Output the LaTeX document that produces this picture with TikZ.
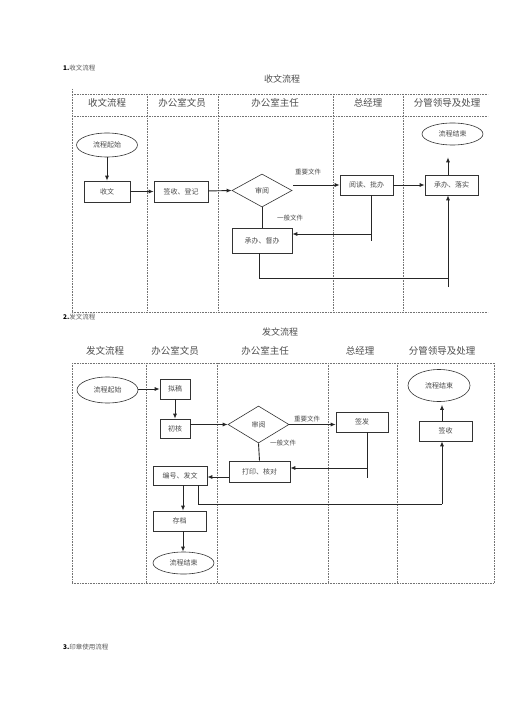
\documentclass[tikz,border=0pt]{standalone}
\usepackage{fontspec}
\setmainfont{Noto Sans CJK SC}
\usetikzlibrary{shapes.geometric,arrows.meta}
\tikzset{
  grid/.style={densely dotted, black!55, line width=0.6pt},
  box/.style={draw=black!80, line width=0.6pt, rectangle, inner sep=0pt, text=black!70, font=\fontsize{7}{8}\selectfont},
  oval/.style={draw=black!80, line width=0.6pt, ellipse, inner sep=0pt, text=black!70, font=\fontsize{7}{8}\selectfont},
  dia/.style={draw=black!80, line width=0.6pt, diamond, inner sep=0pt, text=black!70, font=\fontsize{7}{8}\selectfont},
  arr/.style={line width=0.9pt, black!85, -{Latex[length=5pt,width=4pt]}},
  ln/.style={line width=0.9pt, black!85},
  hdr/.style={text=black!70, font=\fontsize{9.5}{11}\selectfont, inner sep=0pt},
  ttl/.style={text=black!70, font=\fontsize{9}{11}\selectfont, inner sep=0pt},
  lbl/.style={text=black!70, font=\fontsize{6.5}{8}\selectfont, inner sep=0pt},
  sec/.style={anchor=west, inner sep=0pt, font=\fontsize{6.5}{8}\selectfont, text=black!65}
}
\begin{document}
\begin{tikzpicture}[x=1pt,y=-1pt]
\useasboundingbox (0,0) rectangle (505,714);
\fill[white] (0,0) rectangle (505,714);

% ---------- Section 1 ----------
\node[sec] (sec1) at (63,68) {\textbf{\color{black}1.}收文流程};
\node[ttl] (t1) at (282,79) {收文流程};
\draw[grid] (72,94) -- (488,94);
\draw[grid] (72,116) -- (488,116);
\draw[grid] (72,312) -- (488,312);
\draw[grid] (72,89) -- (72,312);
\foreach \x in {147,218,333,403} \draw[grid] (\x,94) -- (\x,312);
\node[hdr] (h11) at (107,103) {收文流程};
\node[hdr] (h12) at (182,103) {办公室文员};
\node[hdr] (h13) at (275,103) {办公室主任};
\node[hdr] (h14) at (368,103) {总经理};
\node[hdr] (h15) at (447,103) {分管领导及处理};

\node[oval, minimum width=61pt, minimum height=24pt] (start1) at (107,145) {流程起始};
\node[box, minimum width=46pt, minimum height=21pt] (shouwen) at (107,191.5) {收文};
\node[box, minimum width=54pt, minimum height=21pt] (qianshou) at (181,191.5) {签收、登记};
\node[dia, minimum width=60pt, minimum height=33pt] (d1) at (262,190.5) {审阅};
\node[box, minimum width=60pt, minimum height=25pt] (duban) at (262,240.5) {承办、督办};
\node[box, minimum width=53pt, minimum height=20pt] (yuedu) at (366.5,185) {阅读、批办};
\node[box, minimum width=53pt, minimum height=20pt] (luoshi) at (451.5,185) {承办、落实};
\node[oval, minimum width=61pt, minimum height=22pt] (end1) at (452.5,134) {流程结束};
\node[lbl] (zy1) at (308,172) {重要文件};
\node[lbl] (yb1) at (290,218) {一般文件};

\draw[arr] (start1) -- (shouwen);
\draw[arr] (shouwen) -- (qianshou);
\draw[arr] (qianshou) -- (d1.west);
\draw[arr] ([xshift=1pt]d1.east |- yuedu.west) -- (yuedu.west);
\draw[arr] (yuedu) -- (luoshi);
\coordinate (x448) at (448,0);
\draw[arr, shorten >=12pt] (luoshi.north -| x448) -- (end1.south -| x448);
\draw[ln] (d1.south) -- (duban.north);
\coordinate (c1a) at (371,234);
\coordinate (c1b) at (371,241);
\draw[ln] (yuedu.south -| c1b) -- (c1b);
\draw[arr] (c1a) -- (c1a -| duban.east);
\coordinate (c2a) at (259,278);
\coordinate (c2b) at (448,278);
\coordinate (c2c) at (448,287);
\draw[ln] (duban.south -| c2a) -- (c2a) -- (c2b);
\draw[arr] (c2c) -- (luoshi.south -| c2c);

% ---------- Section 2 ----------
\node[sec] (sec2) at (63,317) {\textbf{\color{black}2.}发文流程};
\node[ttl] (t2) at (280,332) {发文流程};
\draw[grid] (72,363) -- (494,363);
\draw[grid] (72,583) -- (494,583);
\draw[grid] (72,363) -- (72,583);
\draw[grid] (494,363) -- (494,583);
\foreach \x in {146,217,328,397} \draw[grid] (\x,363) -- (\x,583);
\node[hdr] (h21) at (105,351) {发文流程};
\node[hdr] (h22) at (175,351) {办公室文员};
\node[hdr] (h23) at (265,351) {办公室主任};
\node[hdr] (h24) at (360,351) {总经理};
\node[hdr] (h25) at (442,351) {分管领导及处理};

\node[oval, minimum width=61pt, minimum height=26pt] (start2) at (107.5,390) {流程起始};
\node[box, minimum width=30pt, minimum height=20pt] (nigao) at (175,389) {拟稿};
\node[box, minimum width=30pt, minimum height=19pt] (chuhe) at (175,428.5) {初核};
\node[dia, minimum width=61pt, minimum height=37pt] (d2) at (258.5,424.5) {审阅};
\node[box, minimum width=52pt, minimum height=20pt] (qianfa) at (362,422) {签发};
\node[box, minimum width=61pt, minimum height=21pt] (dayin) at (259.5,471.5) {打印、核对};
\node[box, minimum width=54pt, minimum height=19pt] (bianhao) at (180,475.5) {编号、发文};
\node[box, minimum width=53pt, minimum height=20pt] (cundang) at (179.5,521) {存档};
\node[oval, minimum width=61pt, minimum height=22pt] (end2a) at (183.5,563) {流程结束};
\node[box, minimum width=53pt, minimum height=20pt] (qs2) at (445.5,431) {签收};
\node[oval, minimum width=62pt, minimum height=32pt] (end2b) at (439,385.5) {流程结束};
\node[lbl] (zy2) at (307,419) {重要文件};
\node[lbl] (yb2) at (283,443) {一般文件};

\draw[arr] (start2.east |- nigao.west) -- (nigao.west);
\draw[arr] (nigao) -- (chuhe);
\draw[arr] (chuhe.east |- d2.west) -- (d2.west);
\draw[arr] (d2.east) -- (d2.east -| qianfa.west);
\draw[ln] (d2.south) -- (dayin.north);
\coordinate (c3a) at (367,468);
\coordinate (c3b) at (367,478);
\draw[ln] (qianfa.south -| c3b) -- (c3b);
\draw[arr] (c3a) -- (c3a -| dayin.east);
\coordinate (c4) at (0,477);
\draw[arr] (dayin.west |- c4) -- (bianhao.east |- c4);
\coordinate (c5a) at (198,504);
\coordinate (c5b) at (442,504);
\draw[ln] (bianhao.south -| c5a) -- (c5a) -- (c5b);
\draw[arr] (c5b) -- (qs2.south -| c5b);
\coordinate (x183) at (183,0);
\draw[arr] (bianhao.south -| x183) -- (cundang.north -| x183);
\draw[arr] (cundang.south -| x183) -- (end2a.north -| x183);
\coordinate (x442) at (442,0);
\draw[arr, shorten >=3pt] (qs2.north -| x442) -- (end2b.south -| x442);

% ---------- Section 3 ----------
\node[sec] (sec3) at (63,647) {\textbf{\color{black}3.}印章使用流程};
\end{tikzpicture}
\end{document}
